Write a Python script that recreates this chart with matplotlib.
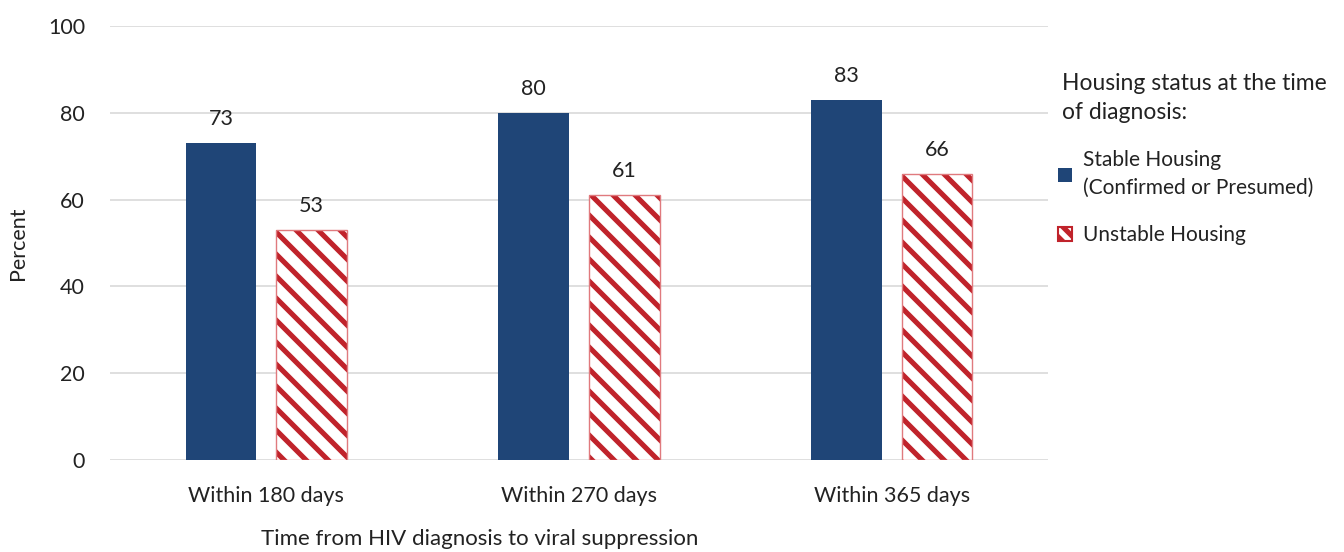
import matplotlib
matplotlib.use("Agg")
import matplotlib.pyplot as plt
import numpy as np

# hatch spacing is fixed per inch, so render at a higher dpi and scale the text down
DPI = 132
S = 100.0 / DPI

plt.rcParams['font.family'] = ['Lato', 'DejaVu Sans']
plt.rcParams['hatch.linewidth'] = 2.8
plt.rcParams['hatch.color'] = '#C0232B'

categories = ['Within 180 days', 'Within 270 days', 'Within 365 days']
stable = [73, 80, 83]
unstable = [53, 61, 66]
series_labels = ['Stable Housing\n(Confirmed or Presumed)', 'Unstable Housing']

blue = '#1F4577'
red = '#C0232B'
pink = '#E07A7E'
txt = '#222222'

fig = plt.figure(figsize=(1344 / DPI, 552 / DPI), dpi=DPI)
ax = fig.add_axes([0.0818, 0.1667, 0.698, 0.7862])

x = np.arange(len(categories))
w = 0.225
off = 0.145

b1 = ax.bar(x - off, stable, w, color=blue, label=series_labels[0], zorder=3)
b2 = ax.bar(x + off, unstable, w, color='white', edgecolor=red,
            hatch='\\\\', linewidth=0, zorder=3)
ax.bar(x + off, unstable, w, fill=False, edgecolor=pink,
       linewidth=1.0 * S, zorder=4)
# legend proxy for the hatched series
proxy = plt.Rectangle((0, 0), 1, 1, facecolor='white', edgecolor=red,
                      hatch='\\\\\\', linewidth=1.5 * S)

for rect, v in zip(list(b1) + list(b2), stable + unstable):
    ax.text(rect.get_x() + rect.get_width() / 2, v + 3.2, str(v),
            ha='center', va='bottom', fontsize=15.5 * S, color=txt)

ax.set_xlim(-0.5, 2.5)
ax.set_ylim(0, 100)
ax.set_yticks([0, 20, 40, 60, 80, 100])
ax.set_xticks(x)
ax.set_xticklabels(categories)
ax.tick_params(axis='both', length=0, labelsize=15.5 * S, colors=txt)
ax.tick_params(axis='x', pad=19 * S)
ax.tick_params(axis='y', pad=18 * S)
ax.grid(axis='y', color='#D9D9D9', linewidth=1.2 * S, zorder=0)
for s in ax.spines.values():
    s.set_visible(False)

ax.set_ylabel('Percent', fontsize=15.5 * S, color=txt, labelpad=14 * S)
fig.text(480 / 1344, 1 - 539 / 552, 'Time from HIV diagnosis to viral suppression',
         ha='center', va='center', fontsize=16 * S, color=txt)

fig.text(1062 / 1344, 1 - 73 / 552, 'Housing status at the time\nof diagnosis:',
         ha='left', va='top', fontsize=16.5 * S, color=txt, linespacing=1.45)

handles = [b1, proxy]
leg = fig.legend(handles, series_labels, loc='upper left',
                 bbox_to_anchor=(1058 / 1344, 1 - 150 / 552), frameon=False,
                 fontsize=15 * S, handlelength=0.65, handleheight=0.65,
                 handletextpad=0.55, labelspacing=1.3, borderaxespad=0,
                 borderpad=0)
for t in leg.get_texts():
    t.set_color(txt)
    t.set_linespacing(1.5)

fig.savefig('out.png', dpi=DPI)
